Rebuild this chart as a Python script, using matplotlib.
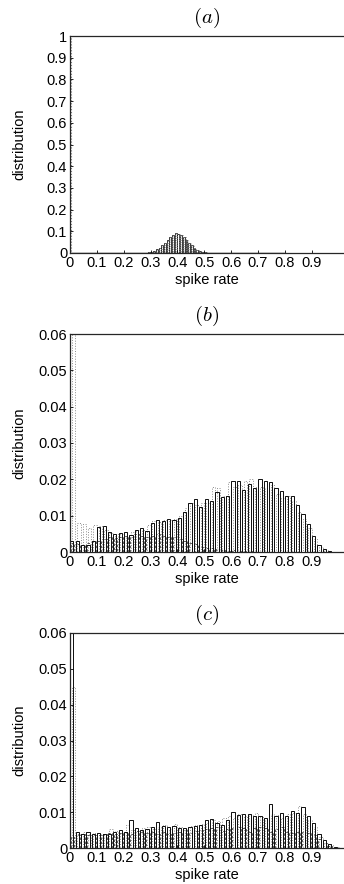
import numpy as np
import matplotlib
matplotlib.use("Agg")
import matplotlib.pyplot as plt

plt.rcParams['font.family'] = ['Liberation Sans', 'DejaVu Sans']
plt.rcParams['mathtext.fontset'] = 'cm'

# bin left edges for panels (b) and (c): width 0.02
edges_bc = np.round(np.arange(0, 1.0, 0.02), 2)

# panel (a): narrow bump around 0.4 (bins of width 0.01) plus a spike at 0
a_edges = np.round(np.arange(0.27, 0.54, 0.01), 2)
a_solid = [0.001, 0.002, 0.003, 0.006, 0.010, 0.017, 0.025, 0.035, 0.048,
           0.062, 0.075, 0.085, 0.090, 0.088, 0.082, 0.072, 0.060, 0.047,
           0.035, 0.024, 0.015, 0.009, 0.005, 0.003, 0.001, 0.0005, 0.0]
a_spike = 1.0

b_solid = [0.003, 0.003, 0.002, 0.002, 0.003, 0.007, 0.0072, 0.0055, 0.005, 0.0052,
           0.0055, 0.0048, 0.006, 0.0065, 0.0058, 0.008, 0.0088, 0.0085, 0.009, 0.0088,
           0.0093, 0.011, 0.0135, 0.0145, 0.0125, 0.0145, 0.014, 0.0165, 0.0152, 0.0155,
           0.0195, 0.0195, 0.0172, 0.0188, 0.0175, 0.020, 0.0196, 0.0193, 0.0175, 0.0168,
           0.0155, 0.0155, 0.0128, 0.0105, 0.0076, 0.0045, 0.002, 0.0008, 0.0002, 0.0]
b_dotted = [0.07, 0.008, 0.0078, 0.0065, 0.0075, 0.0072, 0.006, 0.0053, 0.005, 0.005,
            0.0045, 0.0055, 0.006, 0.006, 0.0075, 0.0085, 0.0082, 0.0088, 0.0088, 0.0092,
            0.010, 0.012, 0.0135, 0.013, 0.0135, 0.0135, 0.0178, 0.0175, 0.0155, 0.0193,
            0.018, 0.0185, 0.0195, 0.020, 0.018, 0.018, 0.0175, 0.0185, 0.016, 0.015,
            0.0155, 0.014, 0.011, 0.009, 0.0065, 0.0035, 0.0015, 0.0005, 0.0001, 0.0]
b_dashed = [0.0025, 0.0022, 0.002, 0.0025, 0.003, 0.003, 0.0035, 0.004, 0.0038, 0.004,
            0.0045, 0.0042, 0.005, 0.0045, 0.0042, 0.0045, 0.005, 0.0045, 0.004, 0.0042,
            0.0035, 0.003, 0.0025, 0.0022, 0.0015, 0.0012, 0.001, 0.0008, 0.0006, 0.0004,
            0.0005, 0.0003, 0.0003, 0.0002, 0.0001, 0.0, 0.0, 0.0, 0.0, 0.0,
            0.0, 0.0, 0.0, 0.0, 0.0, 0.0, 0.0, 0.0, 0.0, 0.0]

c_solid = [0.07, 0.0045, 0.004, 0.0045, 0.0038, 0.0042, 0.0038, 0.004, 0.0045, 0.005,
           0.0045, 0.0078, 0.0055, 0.005, 0.0052, 0.0058, 0.0072, 0.0062, 0.0058, 0.0062,
           0.0055, 0.0055, 0.0058, 0.0062, 0.0065, 0.0078, 0.0082, 0.007, 0.0065, 0.0078,
           0.010, 0.0092, 0.0095, 0.0095, 0.009, 0.0088, 0.0085, 0.0122, 0.0088, 0.0098,
           0.009, 0.0102, 0.0098, 0.0115, 0.009, 0.007, 0.004, 0.0022, 0.001, 0.0003]
c_dotted = [0.045, 0.004, 0.0045, 0.004, 0.0042, 0.0038, 0.0035, 0.0052, 0.0048, 0.0042,
            0.0065, 0.005, 0.0048, 0.0055, 0.006, 0.0052, 0.0058, 0.0065, 0.0052, 0.0068,
            0.006, 0.0052, 0.0062, 0.0065, 0.0068, 0.007, 0.0078, 0.0075, 0.0085, 0.0088,
            0.0085, 0.0095, 0.0088, 0.0092, 0.0098, 0.009, 0.0078, 0.0095, 0.0092, 0.0085,
            0.0095, 0.0098, 0.0118, 0.0095, 0.0078, 0.0058, 0.003, 0.0015, 0.0008, 0.0002]
c_dashed = [0.003, 0.0035, 0.0038, 0.0035, 0.0035, 0.0035, 0.0038, 0.0042, 0.004, 0.0042,
            0.0045, 0.004, 0.0048, 0.0045, 0.0042, 0.0045, 0.004, 0.0045, 0.004, 0.0042,
            0.0045, 0.005, 0.0042, 0.0048, 0.005, 0.0052, 0.0055, 0.0058, 0.0048, 0.0052,
            0.0055, 0.0058, 0.0055, 0.0045, 0.0055, 0.006, 0.0055, 0.0045, 0.0052, 0.0058,
            0.0045, 0.0042, 0.0045, 0.0045, 0.0042, 0.0035, 0.0025, 0.0015, 0.0005, 0.0]

xticks = [0, 0.1, 0.2, 0.3, 0.4, 0.5, 0.6, 0.7, 0.8, 0.9]
xticklabels = ['0', '0.1', '0.2', '0.3', '0.4', '0.5', '0.6', '0.7', '0.8', '0.9']
a_yticks = [0, 0.1, 0.2, 0.3, 0.4, 0.5, 0.6, 0.7, 0.8, 0.9, 1.0]
a_yticklabels = ['0', '0.1', '0.2', '0.3', '0.4', '0.5', '0.6', '0.7', '0.8', '0.9', '1']
bc_yticks = [0, 0.01, 0.02, 0.03, 0.04, 0.05, 0.06]
bc_yticklabels = ['0', '0.01', '0.02', '0.03', '0.04', '0.05', '0.06']

W, H = 344, 884
fig = plt.figure(figsize=(W / 100, H / 100), dpi=100)

# axes rectangles in pixels: left, top, right, bottom
boxes = [(70, 36, 344, 253), (70, 334, 344, 552), (70, 633, 344, 848)]
titles = ['$(a)$', '$(b)$', '$(c)$']
axes = []
for (l, t, r, b), title in zip(boxes, titles):
    ax = fig.add_axes([l / W, 1 - b / H, (r - l) / W, (b - t) / H])
    ax.set_xlim(0, 1.02)
    ax.spines['right'].set_visible(False)
    for s in ['left', 'top', 'bottom']:
        ax.spines[s].set_linewidth(0.9)
        ax.spines[s].set_color('0.15')
    ax.set_xticks(xticks)
    ax.set_xticklabels(xticklabels)
    ax.tick_params(direction='in', length=2.5, width=0.6, labelsize=10.5, pad=2)
    ax.set_xlabel('spike rate', fontsize=10.5, labelpad=2.5)
    ax.set_ylabel('distribution', fontsize=10.5)
    ax.yaxis.set_label_coords(-0.16, 0.5)
    ax.set_title(title, fontsize=15, pad=9.5)
    axes.append(ax)

bar_kw = dict(align='edge', fill=False)

# (a)
ax = axes[0]
ax.set_ylim(0, 1.0)
ax.set_yticks(a_yticks)
ax.set_yticklabels(a_yticklabels)
ax.bar(a_edges, a_solid, width=0.007, edgecolor='0.1', linewidth=0.6, **bar_kw)
ax.bar(a_edges + 0.004, a_solid, width=0.006, edgecolor='0.55', linewidth=0.6,
       linestyle=':', **bar_kw)
ax.bar([0.0], [a_spike], width=0.004, edgecolor='0.5', linewidth=0.8,
       linestyle=':', **bar_kw)
ax.plot([0, 0.8], [0.002, 0.002], color='0.1', linewidth=1.0)

# (b) and (c)
for ax, solid, dotted, dashed in [(axes[1], b_solid, b_dotted, b_dashed),
                                  (axes[2], c_solid, c_dotted, c_dashed)]:
    ax.set_ylim(0, 0.06)
    ax.set_yticks(bc_yticks)
    ax.set_yticklabels(bc_yticklabels)
    ax.bar(edges_bc + 0.007, dotted, width=0.013, edgecolor='0.55', linewidth=0.7,
           linestyle=':', **bar_kw)
    ax.bar(edges_bc + 0.002, dashed, width=0.014, edgecolor='0.25', linewidth=0.6,
           linestyle=(0, (3, 2)), **bar_kw)
    ax.bar(edges_bc + 0.001, solid, width=0.012, edgecolor='0.05', linewidth=0.7,
           **bar_kw)

fig.savefig('out.png', dpi=100)
